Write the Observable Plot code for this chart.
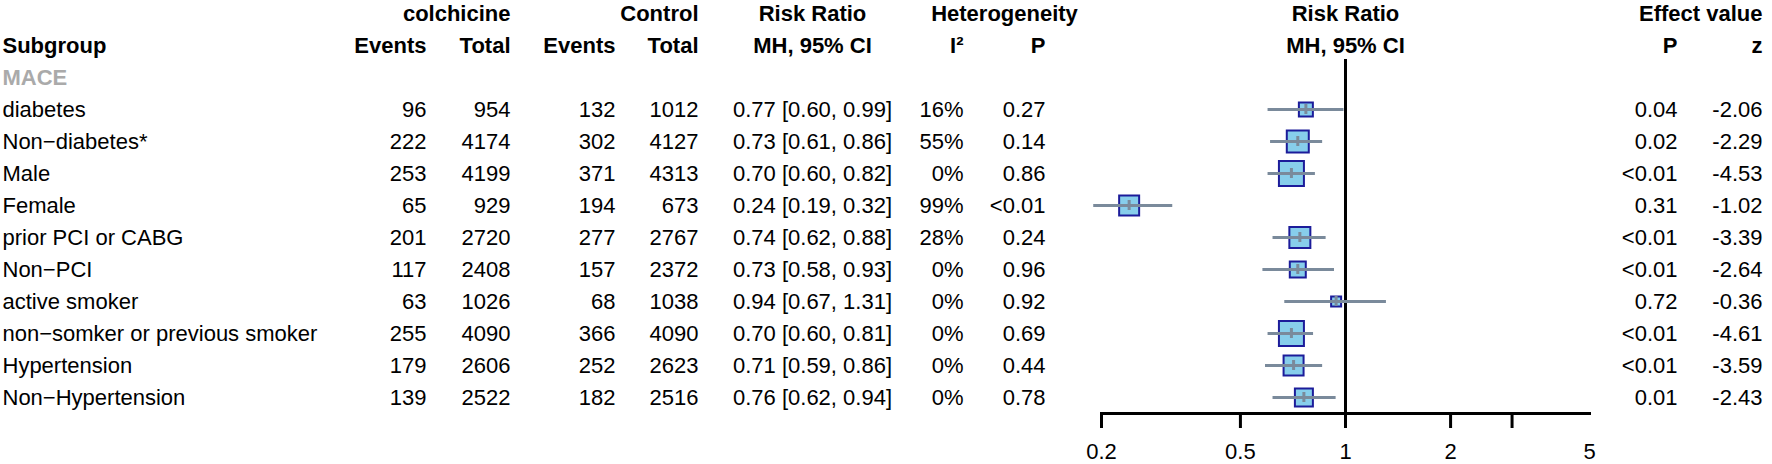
<!DOCTYPE html>
<html><head><meta charset="utf-8">
<script src="https://cdn.jsdelivr.net/npm/d3@7"></script>
<script src="https://cdn.jsdelivr.net/npm/@observablehq/plot@0.6"></script>
<style>
body{margin:0;background:#fff;}
#chart{position:relative;width:1772px;height:464px;background:#fff;}
#chart svg{position:absolute;left:0;top:0;}
</style></head><body><div id="chart"></div>
<script>
// ---- data ----
const subgroups = ["diabetes","Non\u2212diabetes*","Male","Female","prior PCI or CABG","Non\u2212PCI","active smoker","non\u2212somker or previous smoker","Hypertension","Non\u2212Hypertension"];
const colEvents = [96,222,253,65,201,117,63,255,179,139];
const colTotal = [954,4174,4199,929,2720,2408,1026,4090,2606,2522];
const ctrlEvents = [132,302,371,194,277,157,68,366,252,182];
const ctrlTotal = [1012,4127,4313,673,2767,2372,1038,4090,2623,2516];
const rr = [0.77,0.73,0.70,0.24,0.74,0.73,0.94,0.70,0.71,0.76];
const rrLower = [0.60,0.61,0.60,0.19,0.62,0.58,0.67,0.60,0.59,0.62];
const rrUpper = [0.99,0.86,0.82,0.32,0.88,0.93,1.31,0.81,0.86,0.94];
const i2 = ["16%","55%","0%","99%","28%","0%","0%","0%","0%","0%"];
const hetP = ["0.27","0.14","0.86","<0.01","0.24","0.96","0.92","0.69","0.44","0.78"];
const effP = ["0.04","0.02","<0.01","0.31","<0.01","<0.01","0.72","<0.01","<0.01","0.01"];
const zValue = ["-2.06","-2.29","-4.53","-1.02","-3.39","-2.64","-0.36","-4.61","-3.59","-2.43"];
const boxWeight = [196,484,625,400,441,256,100,625,400,324];
const sectionLabel = "MACE";
const tickMarks = [0.2,0.5,1,2,3];
const tickLabels = [0.2,0.5,1,2,5];

const fmtCI = (m,l,u) => `${m.toFixed(2)} [${l.toFixed(2)}, ${u.toFixed(2)}]`;
const rows = subgroups.map((name,i) => ({
  name, ev1: String(colEvents[i]), tot1: String(colTotal[i]), ev2: String(ctrlEvents[i]), tot2: String(ctrlTotal[i]),
  rr: rr[i], lo: rrLower[i], hi: rrUpper[i], ci: fmtCI(rr[i], rrLower[i], rrUpper[i]),
  i2: i2[i], hetP: hetP[i], effP: effP[i], z: zValue[i], w: boxWeight[i]
}));

// ---- layout ----
const W = 1772, H = 464;
const FONT = "'Liberation Sans', Arial, Helvetica, sans-serif";
const FS = 22;
const col = {sub: 2, ev1: 426, tot1: 510, ev2: 615, tot2: 698, ci: 812, i2: 963, hetP: 1045, het: 1004, forest: 1345, effP: 1677, z: 1762};
const rowKeys = ["h1","h2", sectionLabel, ...subgroups];
const rowStep = 32.25, firstRow = 11;
const yRange = [firstRow - rowStep/2, firstRow + rowStep*(rowKeys.length-0.5)];

const bold = {fontWeight: "bold", fill: "#000"};
const headers = [
  {k:"h1", x: col.tot1, t:"colchicine", a:"end"},
  {k:"h1", x: col.tot2, t:"Control", a:"end"},
  {k:"h1", x: col.ci, t:"Risk Ratio", a:"middle"},
  {k:"h1", x: col.het, t:"Heterogeneity", a:"middle"},
  {k:"h1", x: col.forest, t:"Risk Ratio", a:"middle"},
  {k:"h1", x: col.z, t:"Effect value", a:"end"},
  {k:"h2", x: col.sub, t:"Subgroup", a:"start"},
  {k:"h2", x: col.ev1, t:"Events", a:"end"},
  {k:"h2", x: col.tot1, t:"Total", a:"end"},
  {k:"h2", x: col.ev2, t:"Events", a:"end"},
  {k:"h2", x: col.tot2, t:"Total", a:"end"},
  {k:"h2", x: col.ci, t:"MH, 95% CI", a:"middle"},
  {k:"h2", x: col.i2, t:"I\u00b2", a:"end"},
  {k:"h2", x: col.hetP, t:"P", a:"end"},
  {k:"h2", x: col.forest, t:"MH, 95% CI", a:"middle"},
  {k:"h2", x: col.effP, t:"P", a:"end"},
  {k:"h2", x: col.z, t:"z", a:"end"}
];

const txt = (field, x, anchor) => Plot.text(rows, {x: () => x, y: "name", text: field, textAnchor: anchor, fill: "#000"});

const table = Plot.plot({
  width: W, height: H, margin: 0,
  style: {fontFamily: FONT, fontSize: FS + "px", background: "transparent"},
  x: {type: "linear", domain: [0, W], range: [0, W], axis: null},
  y: {type: "band", domain: rowKeys, range: yRange, padding: 0, axis: null},
  marks: [
    ...["start","middle","end"].map(a => Plot.text(headers.filter(d => d.a === a), {x: "x", y: "k", text: "t", textAnchor: a, ...bold})),
    Plot.text([sectionLabel], {x: () => col.sub, y: d => d, text: d => d, textAnchor: "start", fontWeight: "bold", fill: "#aaaaaa"}),
    txt("name", col.sub, "start"),
    txt("ev1", col.ev1, "end"),
    txt("tot1", col.tot1, "end"),
    txt("ev2", col.ev2, "end"),
    txt("tot2", col.tot2, "end"),
    txt("ci", col.ci, "middle"),
    txt("i2", col.i2, "end"),
    txt("hetP", col.hetP, "end"),
    txt("effP", col.effP, "end"),
    txt("z", col.z, "end")
  ]
});

const ciColor = "#7a8a9b";
const forest = Plot.plot({
  width: W, height: H,
  marginLeft: 1101, marginRight: W - 1589, marginTop: 59, marginBottom: 51,
  style: {fontFamily: FONT, fontSize: FS + "px", background: "transparent"},
  x: {type: "log", domain: [0.2, 5]},
  y: {type: "band", domain: subgroups, range: [yRange[0] + rowStep*3, yRange[1]], padding: 0, axis: null},
  r: {type: "sqrt", domain: [0, 625], range: [0, 14.1]},
  marks: [
    Plot.ruleX([1], {stroke: "#000", strokeWidth: 3}),
    Plot.dot(rows, {x: "rr", y: "name", r: "w", symbol: "square", fill: "#87CEEB", stroke: "#1c1c9a", strokeWidth: 2}),
    Plot.ruleY(rows, {y: "name", x1: "lo", x2: "hi", stroke: ciColor, strokeWidth: 3}),
    Plot.tickX(rows, {x: "rr", y: "name", stroke: ciColor, strokeWidth: 3, insetTop: 11, insetBottom: 11}),
    Plot.frame({anchor: "bottom", stroke: "#000", strokeWidth: 3}),
    Plot.axisX({ticks: tickMarks, tickSize: 15, tickFormat: () => "", stroke: "#000", strokeWidth: 3}),
    Plot.axisX({ticks: tickLabels, tickSize: 0, tickPadding: 30, fontSize: FS, fill: "#000", tickFormat: d => String(d)})
  ]
});

const root = document.getElementById("chart");
root.appendChild(table);
root.appendChild(forest);
</script></body></html>
